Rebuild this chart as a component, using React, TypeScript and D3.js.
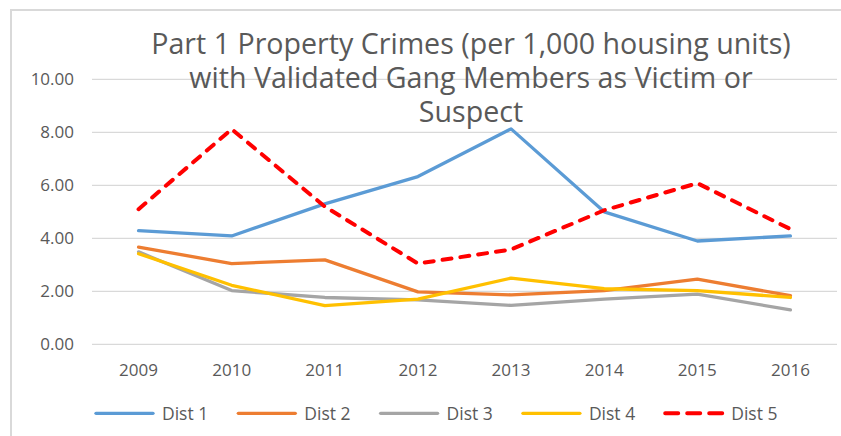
import React from "react";
import * as d3 from "d3";

const years = ["2009", "2010", "2011", "2012", "2013", "2014", "2015", "2016"];
const seriesNames = ["Dist 1", "Dist 2", "Dist 3", "Dist 4", "Dist 5"];
const dist1 = [4.29, 4.09, 5.3, 6.33, 8.13, 5.0, 3.9, 4.09];
const dist2 = [3.67, 3.05, 3.19, 1.98, 1.87, 2.03, 2.46, 1.84];
const dist3 = [3.49, 2.03, 1.77, 1.68, 1.47, 1.71, 1.9, 1.3];
const dist4 = [3.42, 2.23, 1.46, 1.71, 2.5, 2.1, 2.03, 1.77];
const dist5 = [5.1, 8.12, 5.2, 3.05, 3.58, 5.06, 6.08, 4.35];
const yTicks = [0, 2, 4, 6, 8, 10];
const titleLines = [
  "Part 1 Property Crimes (per 1,000 housing units)",
  "with Validated Gang Members as Victim or",
  "Suspect",
];

const colors = ["#5B9BD5", "#ED7D31", "#A5A5A5", "#FFC000", "#FF0000"];
const allSeries = [dist1, dist2, dist3, dist4, dist5];
const FONT = "'Open Sans', sans-serif";
const TEXT = "#595959";

export default function App() {
  const W = 841;
  const H = 436;
  const x = d3.scaleBand<string>().domain(years).range([92, 837]);
  const y = d3.scaleLinear().domain([0, 10]).range([344.4, 79.3]);
  const cx = (yr: string) => (x(yr) as number) + x.bandwidth() / 2;
  const line = d3
    .line<number>()
    .x((_, i) => cx(years[i]))
    .y((d) => y(d));

  return (
    <svg
      width={W}
      height={H}
      style={{ position: "fixed", left: 0, top: 0, background: "#fff" }}
      fontFamily={FONT}
    >
      <rect x={0} y={0} width={W} height={H} fill="#fff" />
      <rect x={11} y={10} width={W + 20} height={H + 20} fill="none" stroke="#D9D9D9" strokeWidth={2} />
      {yTicks.map((t) => (
        <g key={t}>
          <line x1={92} x2={837} y1={y(t)} y2={y(t)} stroke="#D9D9D9" strokeWidth={1.2} />
          <text x={74} y={y(t) + 6} textAnchor="end" fontSize={17} fill={TEXT}>
            {t.toFixed(2)}
          </text>
        </g>
      ))}
      {years.map((yr) => (
        <text key={yr} x={cx(yr)} y={376} textAnchor="middle" fontSize={17} fill={TEXT}>
          {yr}
        </text>
      ))}
      <text textAnchor="middle" fontSize={28.6} fill={TEXT}>
        {titleLines.map((t, i) => (
          <tspan key={i} x={471} y={54 + i * 34}>
            {t}
          </tspan>
        ))}
      </text>
      {allSeries.map((s, i) => (
        <path
          key={i}
          d={line(s) as string}
          fill="none"
          stroke={colors[i]}
          strokeWidth={i === 4 ? 4 : 3.3}
          strokeDasharray={i === 4 ? "9 9" : undefined}
          strokeLinecap="round"
          strokeLinejoin="round"
        />
      ))}
      {seriesNames.map((n, i) => {
        const lx = 94 + i * 142.3;
        return (
          <g key={n}>
            <line
              x1={lx + 2}
              x2={lx + 59}
              y1={413.3}
              y2={413.3}
              stroke={colors[i]}
              strokeWidth={i === 4 ? 4 : 3.3}
              strokeDasharray={i === 4 ? "13 9" : undefined}
              strokeLinecap="round"
            />
            <text x={lx + 68} y={419.5} fontSize={17.5} fill={TEXT}>
              {n}
            </text>
          </g>
        );
      })}
    </svg>
  );
}
